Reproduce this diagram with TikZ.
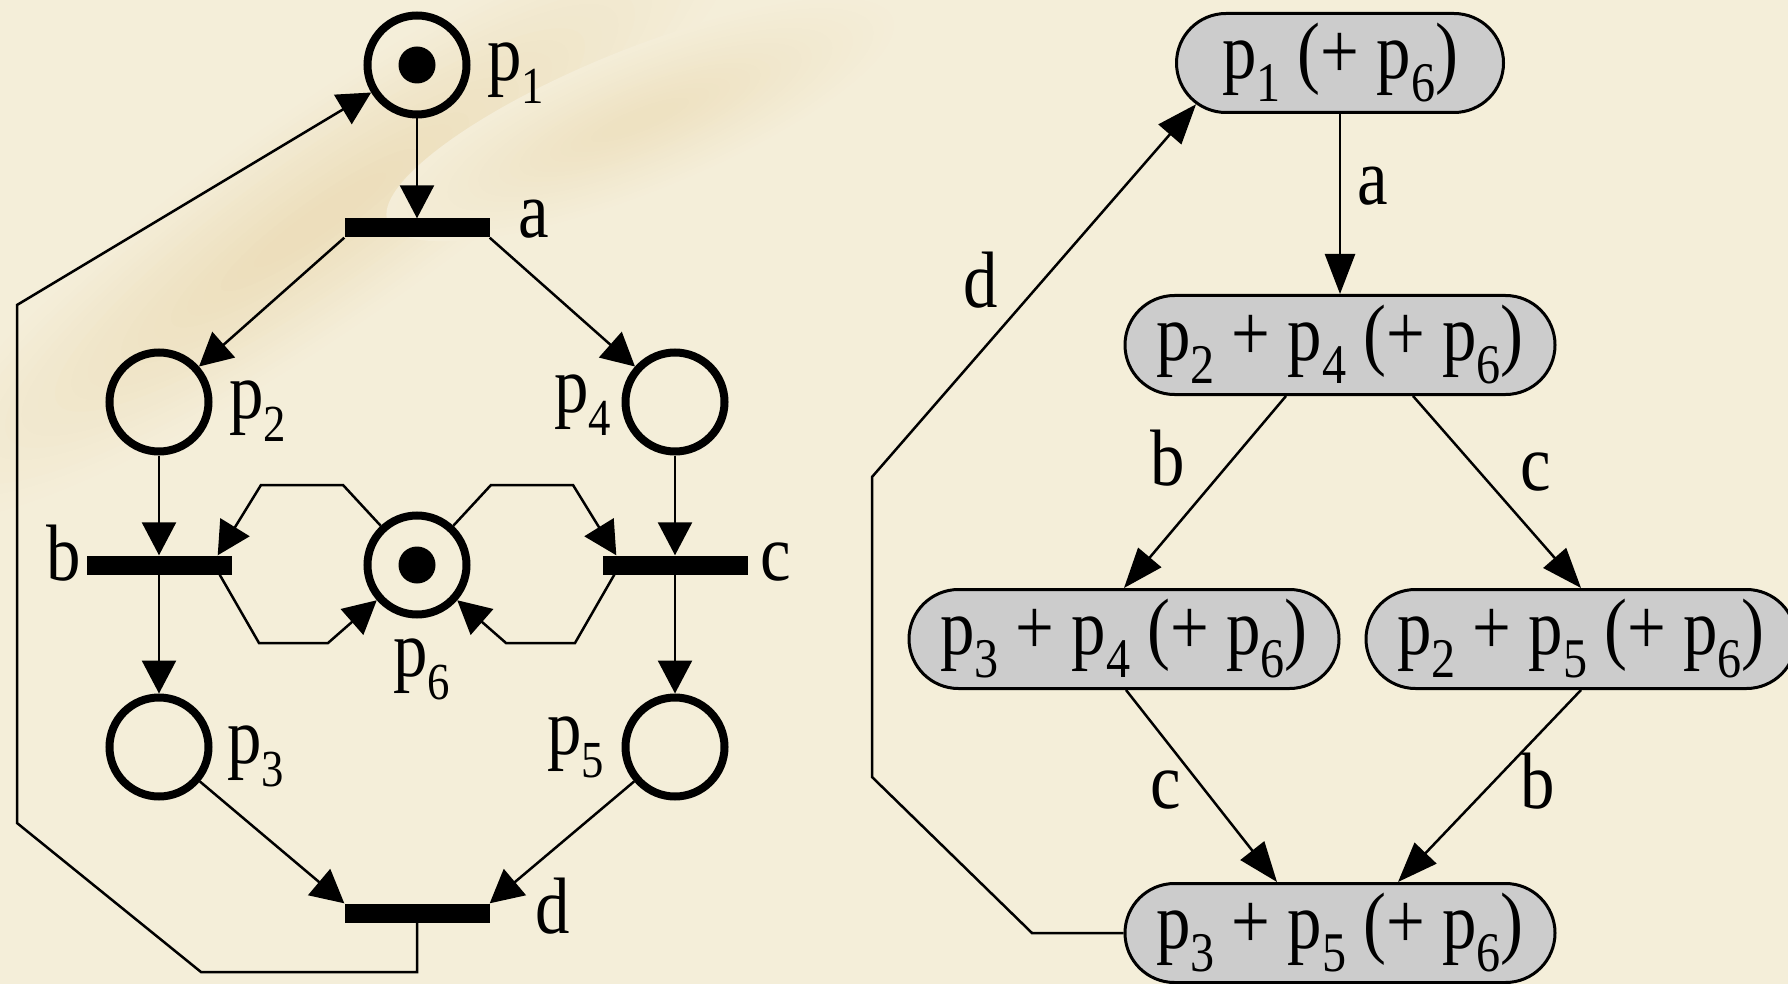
\documentclass[tikz,border=0pt]{standalone}
\usepackage{fontspec}
\setmainfont{Liberation Serif}
\usetikzlibrary{arrows.meta,shapes.misc,calc}
\definecolor{bgcol}{RGB}{244,238,217}
\definecolor{streak}{RGB}{218,182,112}
\definecolor{capfill}{RGB}{204,204,204}
\newcommand\tx[1]{\scalebox{0.86}[1]{\fontsize{80}{80}\selectfont #1}}
\newcommand\lsub[1]{\raisebox{-23pt}{\fontsize{52}{52}\selectfont #1}}
\newcommand\csub[1]{\raisebox{-23pt}{\fontsize{56}{56}\selectfont #1}}
\begin{document}
\begin{tikzpicture}[x=1pt,y=-1pt,
  place/.style={circle,draw=black,line width=8pt,minimum size=99pt,inner sep=0pt},
  tok/.style={circle,fill=black,minimum size=37pt,inner sep=0pt},
  trans/.style={rectangle,fill=black,minimum width=145pt,minimum height=19pt,inner sep=0pt},
  arc/.style={line width=2.5pt,-{Triangle[length=33pt,width=34pt]}},
  lbl/.style={inner sep=0pt},
  state/.style={rounded rectangle,draw=black,line width=3pt,fill=capfill,minimum width=430pt,minimum height=99pt,inner sep=0pt},
  garc/.style={line width=2.5pt,-{Triangle[length=40pt,width=30pt]}},
]
\useasboundingbox (0,0) rectangle (1788,984);
\begin{scope}
\clip (0,0) rectangle (1788,984);
\fill[bgcol] (0,0) rectangle (1788,984);
\foreach \k [evaluate=\k as \p using {int((23-\k)*1.3)}] in {22,21,...,1} {
  \fill[streak!\p!bgcol,shift={(320,220)},rotate=35] (0,0) ellipse [x radius={60+20*\k}, y radius={8+4.5*\k}];
}
\foreach \k [evaluate=\k as \p using {int((23-\k)*1.0)}] in {22,21,...,1} {
  \fill[streak!\p!bgcol,shift={(640,120)},rotate=22] (0,0) ellipse [x radius={30+11*\k}, y radius={5+3*\k}];
}
\end{scope}

% ---- Petri net ----
\node[place] (p1) at (417,65) {};
\node[tok] (p1t) at (p1) {};
\node[trans] (a) at (417,228) {};
\node[place] (p2) at (159,402) {};
\node[place] (p4) at (675,402) {};
\node[trans] (b) at (159,565) {};
\node[trans] (c) at (675,565) {};
\node[place] (p6) at (417,565) {};
\node[tok] (p6t) at (p6) {};
\node[place] (p3) at (159,747) {};
\node[place] (p5) at (675,747) {};
\node[trans] (d) at (417,913) {};

\node[lbl,anchor=base west] (lp1) at (487,81) {\tx{p\lsub{1}}};
\node[lbl,anchor=base west] (la) at (518,238) {\tx{a}};
\node[lbl,anchor=base west] (lp2) at (229,418) {\tx{p\lsub{2}}};
\node[lbl,anchor=base east] (lp4) at (611,412) {\tx{p\lsub{4}}};
\node[lbl,anchor=base east] (lb) at (81,580) {\tx{b}};
\node[lbl,anchor=base west] (lc) at (760,580) {\tx{c}};
\node[lbl,anchor=base west] (lp6) at (393,676) {\tx{p\lsub{6}}};
\node[lbl,anchor=base west] (lp3) at (227,763) {\tx{p\lsub{3}}};
\node[lbl,anchor=base east] (lp5) at (604,754) {\tx{p\lsub{5}}};
\node[lbl,anchor=base west] (ld) at (535,933) {\tx{d}};

\draw[arc] (p1) -- (a.north);
\draw[arc] (a.south west) -- (p2);
\draw[arc] (a.south east) -- (p4);
\draw[arc] (p2) -- (b.north);
\draw[arc] (p4) -- (c.north);
\draw[arc] (b.south) -- (p3);
\draw[arc] (c.south) -- (p5);
\draw[arc] (p3) -- (d.north west);
\draw[arc] (p5) -- (d.north east);

\coordinate (h1) at (343,485);
\coordinate (h2) at (261,485);
\coordinate (h4) at (259,643);
\coordinate (h5) at (328,643);
\coordinate (h6) at (491,485);
\coordinate (h7) at (573,485);
\coordinate (h8) at (575,643);
\coordinate (h9) at (506,643);
\draw[arc] (p6) -- (h1) -- (h2) -- ($(b.north east)+(-14,0)$);
\draw[arc] ($(b.south east)+(-12,0)$) -- (h4) -- (h5) -- (p6);
\draw[arc] (p6) -- (h6) -- (h7) -- ($(c.north west)+(14,0)$);
\draw[arc] ($(c.south west)+(12,0)$) -- (h8) -- (h9) -- (p6);

\coordinate (d1) at (417,972);
\coordinate (d2) at (201,972);
\coordinate (d3) at (17,823);
\coordinate (d4) at (17,305);
\draw[arc] (d.south) -- (d1) -- (d2) -- (d3) -- (d4) -- (p1);

% ---- reachability graph ----
\node[state,minimum width=327pt] (N1) at (1340,63) {\tx{p\csub{1} (+ p\csub{6})}};
\node[state] (N2) at (1340,345) {\tx{p\csub{2} + p\csub{4} (+ p\csub{6})}};
\node[state] (N3) at (1124,639) {\tx{p\csub{3} + p\csub{4} (+ p\csub{6})}};
\node[state] (N4) at (1581,639) {\tx{p\csub{2} + p\csub{5} (+ p\csub{6})}};
\node[state] (N5) at (1340,933) {\tx{p\csub{3} + p\csub{5} (+ p\csub{6})}};

\draw[garc] (N1) -- (N2);
\draw[garc] ($(N2.south)+(-54,0)$) -- (N3.north);
\draw[garc] ($(N2.south)+(73,0)$) -- (N4.north);
\draw[garc] ($(N3.south)+(2,0)$) -- ($(N5.north)+(-63,0)$);
\draw[garc] (N4.south) -- ($(N5.north)+(58,0)$);
\coordinate (g1) at (1032,933);
\coordinate (g2) at (872,777);
\coordinate (g3) at (872,477);
\draw[garc] (N5.west) -- (g1) -- (g2) -- (g3) -- (N1.196);

\node[lbl,anchor=base west] (ra) at (1357,205) {\tx{a}};
\node[lbl,anchor=base west] (rd) at (963,308) {\tx{d}};
\node[lbl,anchor=base west] (rb1) at (1150,485) {\tx{b}};
\node[lbl,anchor=base west] (rc1) at (1520,490) {\tx{c}};
\node[lbl,anchor=base west] (rc2) at (1150,808) {\tx{c}};
\node[lbl,anchor=base west] (rb2) at (1520,808) {\tx{b}};
\end{tikzpicture}
\end{document}
